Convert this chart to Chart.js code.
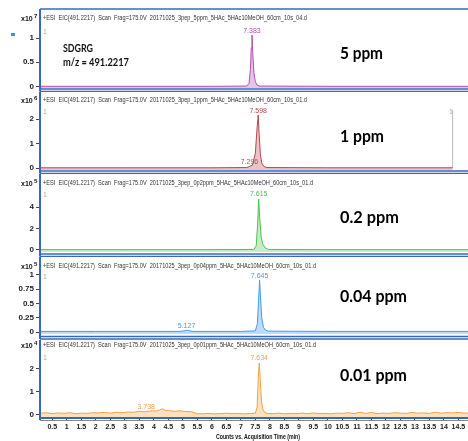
<!DOCTYPE html>
<html>
<head>
<meta charset="utf-8">
<script src="https://cdn.jsdelivr.net/npm/chart.js@4.4.0/dist/chart.umd.min.js"></script>
<style>
  body { margin: 0; background: #fff; }
  #wrap { position: relative; width: 468px; height: 441px; overflow: hidden; background: #fff; }
  .pane { position: absolute; left: 0; width: 468px; }
</style>
</head>
<body>
<div id="wrap">
  <div class="pane" style="top:0;height:92px"><canvas id="c0"></canvas></div>
  <div class="pane" style="top:92px;height:82px"><canvas id="c1"></canvas></div>
  <div class="pane" style="top:174px;height:83px"><canvas id="c2"></canvas></div>
  <div class="pane" style="top:257px;height:83px"><canvas id="c3"></canvas></div>
  <div class="pane" style="top:340px;height:101px"><canvas id="c4"></canvas></div>
</div>
<script>
// ---- data ----
// 5 ppm, counts x10^7
const t5ppm = [0.08, 3.0, 6.0, 7.20, 7.28, 7.33, 7.36, 7.383, 7.41, 7.45, 7.50, 7.56, 7.65, 10.0, 14.85];
const y5ppm = [0.005, 0.005, 0.005, 0.01, 0.06, 0.35, 0.80, 1.06, 0.70, 0.28, 0.10, 0.03, 0.01, 0.005, 0.005];
// 1 ppm, counts x10^6
const t1ppm = [0.08, 3.0, 6.0, 7.20, 7.296, 7.40, 7.50, 7.55, 7.598, 7.63, 7.67, 7.72, 7.80, 7.90, 10.0, 14.3];
const y1ppm = [0.01, 0.01, 0.01, 0.02, 0.06, 0.12, 0.60, 1.50, 2.16, 1.40, 0.60, 0.20, 0.06, 0.02, 0.01, 0.01];
const tEnd1ppm = [14.3, 14.3];
const yEnd1ppm = [0, 2.37];
// 0.2 ppm, counts x10^5
const t02ppm = [0.08, 3.0, 6.0, 7.45, 7.53, 7.58, 7.615, 7.65, 7.70, 7.76, 7.85, 7.95, 10.0, 14.85];
const y02ppm = [0.03, 0.03, 0.03, 0.05, 0.40, 2.50, 4.74, 3.00, 1.20, 0.50, 0.18, 0.05, 0.03, 0.03];
// 0.04 ppm, counts x10^5
const t004ppm = [0.08, 2.0, 4.9, 5.05, 5.127, 5.2, 5.35, 7.0, 7.50, 7.57, 7.61, 7.645, 7.68, 7.72, 7.78, 7.86, 7.95, 10.0, 14.85];
const y004ppm = [0.01, 0.01, 0.01, 0.02, 0.03, 0.025, 0.01, 0.01, 0.02, 0.15, 0.55, 0.91, 0.60, 0.25, 0.08, 0.03, 0.015, 0.01, 0.01];
// 0.01 ppm, counts x10^4
const t001ppm = [0.1, 0.3, 0.5, 0.7, 0.9, 1.1, 1.3, 1.5, 1.7, 1.9, 2.1, 2.3, 2.5, 2.7, 2.9, 3.1, 3.3, 3.5, 3.7, 3.9,
  4.1, 4.2, 4.3, 4.4, 4.5, 4.7, 4.9, 5.1, 5.3, 5.5, 5.7, 5.9, 6.1, 6.3, 6.5, 6.7, 6.9, 7.1, 7.3, 7.5,
  7.56, 7.60, 7.634, 7.67, 7.71, 7.76, 7.82, 7.9, 8.1, 8.3, 8.5, 8.7, 8.9, 9.1, 9.3, 9.5, 9.7, 9.9,
  10.1, 10.3, 10.5, 10.7, 10.9, 11.1, 11.3, 11.5, 11.7, 11.9, 12.1, 12.3, 12.5, 12.7, 12.9, 13.1, 13.3,
  13.5, 13.7, 13.9, 14.1, 14.3, 14.5, 14.7, 14.85];
const y001ppm = [0.08, 0.10, 0.06, 0.09, 0.07, 0.10, 0.06, 0.08, 0.07, 0.10, 0.09, 0.11, 0.08, 0.12, 0.10, 0.13, 0.12, 0.16, 0.14, 0.18,
  0.17, 0.22, 0.27, 0.20, 0.19, 0.16, 0.18, 0.15, 0.14, 0.06, 0.05, 0.07, 0.05, 0.06, 0.08, 0.06, 0.07, 0.05, 0.06, 0.08,
  0.35, 1.60, 2.26, 1.50, 0.60, 0.25, 0.12, 0.07, 0.06, 0.08, 0.05, 0.07, 0.06, 0.08, 0.06, 0.09, 0.06, 0.07,
  0.05, 0.08, 0.07, 0.10, 0.06, 0.12, 0.07, 0.11, 0.06, 0.08, 0.07, 0.10, 0.08, 0.07, 0.11, 0.08, 0.09,
  0.07, 0.12, 0.08, 0.10, 0.09, 0.11, 0.08, 0.09];

// peak labels: retention time and the height the label sits over
const peakT = [[7.383], [7.598, 7.296], [7.615], [7.645, 5.127], [7.634, 3.738]];
const peakY = [[1.06], [2.16, 0.06], [4.74], [0.91, 0.03], [2.26, 0.15]];

const timeTicks = [0.5, 1, 1.5, 2, 2.5, 3, 3.5, 4, 4.5, 5, 5.5, 6, 6.5, 7, 7.5, 8, 8.5, 9, 9.5, 10,
  10.5, 11, 11.5, 12, 12.5, 13, 13.5, 14, 14.5];
const yTicks = [[0, 0.5, 1], [0, 1, 2], [0, 2, 4], [0, 0.25, 0.5, 0.75, 1], [0, 1, 2]];
const yMin = [-0.03, -0.08, -0.19, -0.035, -0.087];
const yMax = [1.206, 2.45, 5.49, 1.035, 2.65];
const exponents = ['7', '6', '5', '5', '4'];
const ppmLabels = ['5 ppm', '1 ppm', '0.2 ppm', '0.04 ppm', '0.01 ppm'];
const headers = [
  '+ESI  EIC(491.2217)  Scan  Frag=175.0V  20171025_3pep_5ppm_5HAc_5HAc10MeOH_60cm_10s_04.d',
  '+ESI  EIC(491.2217)  Scan  Frag=175.0V  20171025_3pep_1ppm_5HAc_5HAc10MeOH_60cm_10s_01.d',
  '+ESI  EIC(491.2217)  Scan  Frag=175.0V  20171025_3pep_0p2ppm_5HAc_5HAc10MeOH_60cm_10s_01.d',
  '+ESI  EIC(491.2217)  Scan  Frag=175.0V  20171025_3pep_0p04ppm_5HAc_5HAc10MeOH_60cm_10s_01.d',
  '+ESI  EIC(491.2217)  Scan  Frag=175.0V  20171025_3pep_0p01ppm_5HAc_5HAc10MeOH_60cm_10s_01.d'
];

// ---- layout / style ----
const series = [[t5ppm, y5ppm], [t1ppm, y1ppm], [t02ppm, y02ppm], [t004ppm, y004ppm], [t001ppm, y001ppm]];
const lineColors = ['#b050b0', '#b5474c', '#4cc24c', '#4799e6', '#f4a044'];
const fillColors = ['rgba(205,150,205,0.55)', 'rgba(215,150,155,0.55)', 'rgba(160,225,160,0.6)',
  'rgba(150,195,240,0.6)', 'rgba(250,205,150,0.6)'];
const geo = [
  { areaTop: 28, padBottom: 4, headY: 18, frameTop: 9, lines: [89, 91.5], ppmY: 59, ppmW: 43 },
  { areaTop: 16, padBottom: 4, headY: 8, frameTop: 0, lines: [79, 81.5], ppmY: 50, ppmW: 44 },
  { areaTop: 17, padBottom: 5, headY: 9, frameTop: 0, lines: [80, 82.5], ppmY: 49, ppmW: 59 },
  { areaTop: 16, padBottom: 6, headY: 9, frameTop: 0, lines: [79.5, 82], ppmY: 45, ppmW: 67 },
  { areaTop: 14, padBottom: 0, headY: 5, frameTop: 0, lines: [], ppmY: 41, ppmW: 67 }
];
const NARROW = "'Liberation Sans Narrow', 'Liberation Sans', Arial, sans-serif";
const FRAME = '#3867c0';

function toPoints(t, v) {
  return t.map((x, i) => ({ x: x, y: v[i] }));
}

function decorPlugin(i) {
  const g = geo[i];
  return {
    id: 'decor' + i,
    afterDraw(chart) {
      const ctx = chart.ctx;
      const xs = chart.scales.x, ys = chart.scales.y;
      ctx.save();
      // frame
      ctx.strokeStyle = FRAME;
      ctx.lineWidth = 2;
      const bottom = g.lines.length ? g.lines[1] : 80;
      ctx.beginPath(); ctx.moveTo(40, g.frameTop); ctx.lineTo(40, bottom); ctx.stroke();
      ctx.lineWidth = 1.5;
      if (i === 0) { ctx.beginPath(); ctx.moveTo(40, 9); ctx.lineTo(468, 9); ctx.stroke(); }
      g.lines.forEach(y => { ctx.beginPath(); ctx.moveTo(40, y); ctx.lineTo(468, y); ctx.stroke(); });
      if (i === 4) {
        ctx.lineWidth = 2;
        ctx.beginPath(); ctx.moveTo(40, 78); ctx.lineTo(468, 78); ctx.stroke();
        ctx.strokeStyle = '#888'; ctx.lineWidth = 1;
        ctx.beginPath(); ctx.moveTo(40, 80.5); ctx.lineTo(468, 80.5); ctx.stroke();
      }
      // header
      ctx.fillStyle = '#333';
      ctx.font = '7px ' + NARROW;
      ctx.textBaseline = 'middle';
      ctx.textAlign = 'left';
      ctx.fillText(headers[i], 43, g.headY, headers[i].length * 3.0);
      // exponent
      ctx.fillStyle = '#111';
      ctx.font = 'bold 7px ' + NARROW;
      ctx.textBaseline = 'alphabetic';
      ctx.fillText('x10', 21, g.headY + 3);
      ctx.font = 'bold 6px ' + NARROW;
      ctx.fillText(exponents[i], 34, g.headY);
      // little gray "1" marker
      ctx.fillStyle = '#aaa';
      ctx.font = '7px ' + NARROW;
      ctx.textBaseline = 'middle';
      ctx.fillText('1', 43, chart.chartArea.top + 4);
      if (i === 1) ctx.fillText('1', 449, chart.chartArea.top + 4);
      // peak labels
      ctx.fillStyle = lineColors[i];
      ctx.textAlign = 'center';
      ctx.textBaseline = 'bottom';
      ctx.font = '7px ' + NARROW;
      peakT[i].forEach((t, k) => {
        ctx.fillText(t.toFixed(3), xs.getPixelForValue(t), ys.getPixelForValue(peakY[i][k]) - 1);
      });
      // concentration label
      ctx.fillStyle = '#000';
      ctx.textAlign = 'left';
      ctx.textBaseline = 'alphabetic';
      ctx.font = "bold 17px Lato, 'Open Sans', sans-serif";
      ctx.fillText(ppmLabels[i], 340, g.ppmY, g.ppmW);
      if (i === 0) {
        ctx.font = "bold 12px Lato, 'Open Sans', sans-serif";
        ctx.fillStyle = '#111';
        ctx.fillText('SDGRG', 63, 52, 30);
        ctx.fillText('m/z = 491.2217', 63, 66, 66);
        ctx.fillStyle = '#4a8fd8';
        ctx.fillRect(11, 33, 4, 3);
      }
      if (i === 4) {
        ctx.fillStyle = '#111';
        ctx.font = 'bold 7px ' + NARROW;
        ctx.textAlign = 'center';
        ctx.fillText('Counts vs. Acquisition Time (min)', 258, 99, 84);
      }
      ctx.restore();
    }
  };
}

function makePanel(i) {
  const g = geo[i];
  const last = i === 4;
  const datasets = [{
    data: toPoints(series[i][0], series[i][1]),
    borderColor: lineColors[i],
    backgroundColor: fillColors[i],
    borderWidth: 1,
    fill: 'start',
    pointRadius: 0,
    tension: 0
  }];
  if (i === 1) {
    datasets.push({
      data: toPoints(tEnd1ppm, yEnd1ppm),
      borderColor: '#bbbbbb',
      borderWidth: 1,
      fill: false,
      pointRadius: 0
    });
  }
  return new Chart(document.getElementById('c' + i), {
    type: 'line',
    data: { datasets: datasets },
    options: {
      responsive: true,
      maintainAspectRatio: false,
      animation: false,
      events: [],
      layout: { padding: { top: g.areaTop, bottom: g.padBottom, left: 0, right: 0 } },
      plugins: { legend: { display: false }, tooltip: { enabled: false } },
      scales: {
        x: {
          type: 'linear',
          min: 0.076,
          max: 14.83,
          display: last,
          afterBuildTicks: s => { s.ticks = timeTicks.map(v => ({ value: v })); },
          afterFit: s => { s.height = last ? 24 : 0; s.paddingLeft = 0; s.paddingRight = 0; },
          grid: { drawOnChartArea: false, tickLength: 3, color: '#444' },
          border: { display: false },
          ticks: {
            font: { family: NARROW, size: 7, weight: 'bold' },
            color: '#222',
            padding: 3,
            maxRotation: 0,
            autoSkip: false,
            callback: v => String(v)
          }
        },
        y: {
          type: 'linear',
          min: yMin[i],
          max: yMax[i],
          afterBuildTicks: s => { s.ticks = yTicks[i].map(v => ({ value: v })); },
          afterFit: s => { s.width = 40; s.paddingTop = 0; s.paddingBottom = 0; },
          grid: { drawOnChartArea: false, tickLength: 4, color: '#444' },
          border: { display: false },
          ticks: {
            font: { family: NARROW, size: 8, weight: 'bold' },
            color: '#222',
            padding: 2,
            autoSkip: false,
            callback: v => String(v)
          }
        }
      }
    },
    plugins: [decorPlugin(i)]
  });
}

window.onload = function () {
  for (let i = 0; i < 5; i++) makePanel(i);
};
</script>
</body>
</html>
